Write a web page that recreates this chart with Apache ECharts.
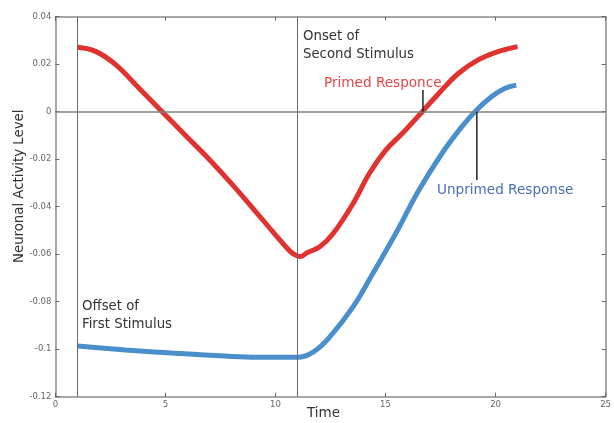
<!DOCTYPE html>
<html><head><meta charset="utf-8">
<script src="https://cdn.jsdelivr.net/npm/echarts@6/dist/echarts.min.js"></script>
<style>html,body{margin:0;padding:0;background:#fff}#c{width:614px;height:423px}</style>
</head><body><div id="c"></div>
<script>
var primedX = [1, 1.85, 2.75, 3.8, 4.85, 5.89, 6.94, 7.99, 9.04, 9.94, 10.68, 11, 11.13, 11.43, 12.03, 12.63, 13.53, 14.27, 15.02, 15.77, 16.67, 17.42, 18.32, 19.21, 20.11, 21.0];
var primedY = [0.0271, 0.0253, 0.0197, 0.0099, 0, -0.0098, -0.0196, -0.0302, -0.0414, -0.0512, -0.0589, -0.0608, -0.061, -0.0594, -0.0568, -0.0512, -0.0386, -0.0259, -0.0161, -0.0091, 0, 0.0077, 0.0162, 0.0218, 0.0253, 0.0274];
var unprimedX = [1, 3.2, 5.45, 7.7, 9.2, 11, 11.73, 12.48, 13.53, 14.43, 15.47, 16.52, 17.57, 18.47, 19.14, 19.81, 20.41, 20.94];
var unprimedY = [-0.0987, -0.1003, -0.1017, -0.1029, -0.1034, -0.1034, -0.1011, -0.0947, -0.0821, -0.068, -0.0512, -0.033, -0.0175, -0.0063, 0.0007, 0.0063, 0.0098, 0.0112];
var stimulusX = [1, 11];
var primedLeader = {x: 16.7, y0: 0, y1: 0.0091};
var unprimedLeader = {x: 19.15, y0: 0, y1: -0.0288};

function pairs(xs, ys){ return xs.map(function(x,i){ return [x, ys[i]]; }); }

var font = 'DejaVu Sans';
var axisColor = '#8a8a8a';
var chart = echarts.init(document.getElementById('c'));
chart.setOption({
  animation: false,
  grid: {left: 55.4, right: 2, top: 16.7, bottom: 26.3},
  xAxis: [{
    type: 'value', min: 0, max: 25, interval: 5,
    axisLine: {onZero: false, lineStyle: {color: axisColor, width: 1.5}},
    axisTick: {inside: true, length: 4, lineStyle: {color: '#666'}},
    axisLabel: {color: '#666', fontSize: 8.5, fontFamily: font, margin: 4},
    splitLine: {show: false}
  }, {
    type: 'value', min: 0, max: 25, interval: 5, position: 'top',
    axisLine: {show: true, onZero: false, lineStyle: {color: axisColor, width: 1.5}},
    axisTick: {inside: true, length: 4, lineStyle: {color: '#666'}},
    axisLabel: {show: false}, splitLine: {show: false}
  }],
  yAxis: [{
    type: 'value', min: -0.12, max: 0.04, interval: 0.02,
    axisLine: {show: true, onZero: false, lineStyle: {color: axisColor, width: 1.5}},
    axisTick: {show: true, inside: true, length: 4, lineStyle: {color: '#666'}},
    axisLabel: {color: '#666', fontSize: 8.5, fontFamily: font, margin: 4},
    splitLine: {show: false}
  }, {
    type: 'value', min: -0.12, max: 0.04, interval: 0.02, position: 'right',
    axisLine: {show: true, onZero: false, lineStyle: {color: axisColor, width: 1.5}},
    axisTick: {show: true, inside: true, length: 4, lineStyle: {color: '#666'}},
    axisLabel: {show: false}, splitLine: {show: false}
  }],
  series: [{
    type: 'line', data: [], silent: true,
    markLine: {
      silent: true, symbol: 'none', label: {show: false},
      lineStyle: {type: 'solid', color: '#6a6a6a', width: 1},
      data: stimulusX.map(function(x){ return {xAxis: x}; }).concat([{yAxis: 0, lineStyle: {color: '#808080', width: 1.5}}])
    }
  }, {
    type: 'line', smooth: 0.4, showSymbol: false, data: pairs(unprimedX, unprimedY),
    lineStyle: {color: '#4a8fcc', width: 5}, z: 3
  }, {
    type: 'line', smooth: 0.4, showSymbol: false, data: pairs(primedX, primedY),
    lineStyle: {color: '#e0322f', width: 5}, z: 4
  }, {
    type: 'line', showSymbol: false, data: [[primedLeader.x, primedLeader.y0], [primedLeader.x, primedLeader.y1]],
    lineStyle: {color: '#222', width: 1.5}, z: 5
  }, {
    type: 'line', showSymbol: false, data: [[unprimedLeader.x, unprimedLeader.y0], [unprimedLeader.x, unprimedLeader.y1]],
    lineStyle: {color: '#222', width: 1.5}, z: 5
  }],
  graphic: [
    {type: 'text', left: 303, top: 28, style: {text: 'Onset of\nSecond Stimulus', fill: '#333', font: '13.3px "DejaVu Sans"', lineHeight: 18}},
    {type: 'text', left: 82, top: 298, style: {text: 'Offset of\nFirst Stimulus', fill: '#333', font: '13.3px "DejaVu Sans"', lineHeight: 18}},
    {type: 'text', left: 324, top: 76, style: {text: 'Primed Responce', fill: '#e84545', font: '13.6px "DejaVu Sans"'}},
    {type: 'text', left: 437, top: 183, style: {text: 'Unprimed Response', fill: '#4a6db5', font: '13.6px "DejaVu Sans"'}},
    {type: 'text', left: 307, top: 406, style: {text: 'Time', fill: '#333', font: '13.5px "DejaVu Sans"'}},
    {type: 'text', x: 13, y: 263, rotation: Math.PI/2, style: {text: 'Neuronal Activity Level', fill: '#333', font: '13.3px "DejaVu Sans"', verticalAlign: 'top'}}
  ]
});
</script></body></html>
